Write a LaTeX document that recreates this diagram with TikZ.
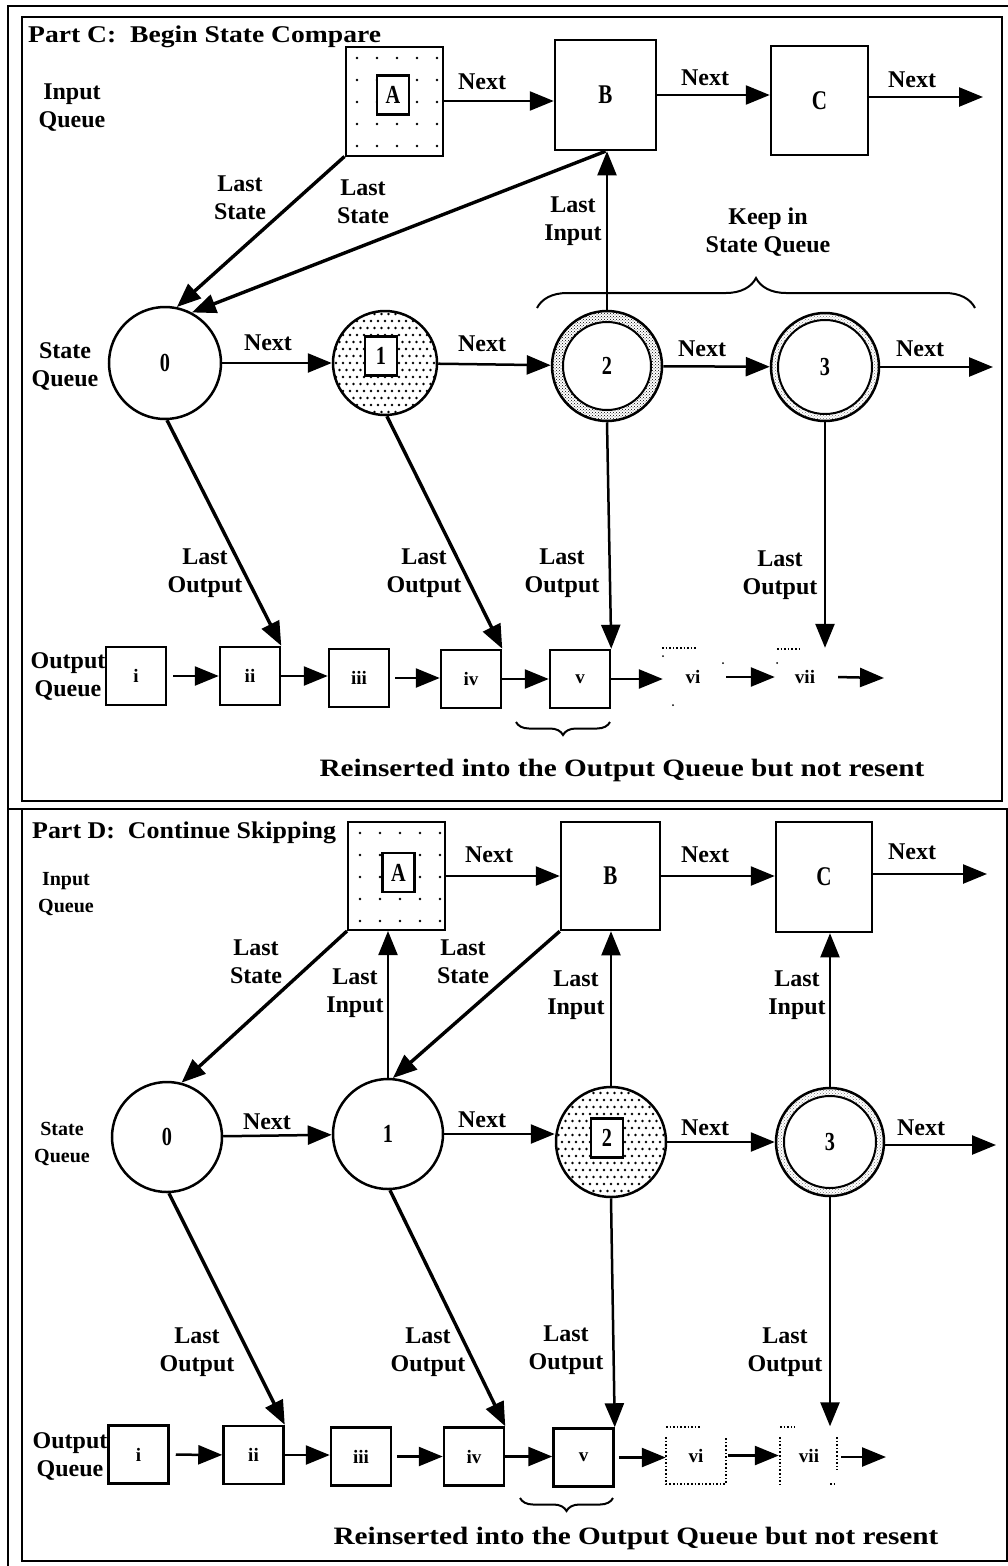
\documentclass[tikz,border=0pt]{standalone}
\usepackage{fontspec}
\usepackage{graphicx}
\setmainfont{Liberation Serif}
\usetikzlibrary{arrows.meta,patterns,decorations.pathreplacing}
\newcommand\mystipple[3]{%
  \begin{scope}
    \clip (#1,#2) circle (#3);
    \foreach \i in {-8,...,8} \foreach \j in {-8,...,8} {
      \fill ({#1+\i*7+mod(\j+20,2)*3.5},{#2+\j*7}) circle (1.3);
    }
  \end{scope}}
\newcommand\cnd[1]{\scalebox{0.78}[1]{#1}}
\newcommand\wde[2]{\scalebox{#1}[1]{#2}}
\tikzset{
  lbl/.style={font=\fontsize{24}{28}\selectfont\bfseries, align=center, inner sep=0pt},
  slbl/.style={font=\fontsize{20}{27}\selectfont\bfseries, align=center, inner sep=0pt},
  ttl/.style={font=\fontsize{24}{28}\selectfont\bfseries, inner sep=0pt, anchor=base west},
  bigbox/.style={draw, line width=2.5pt, inner sep=0pt, font=\fontsize{27}{27}\selectfont\bfseries},
  arr/.style={line width=2.5pt, -{Triangle[length=24pt,width=19pt]}},
  tarr/.style={line width=3.4pt, -{Triangle[length=24pt,width=19pt]}},
  varr/.style={line width=2pt, -{Triangle[length=24pt,width=19pt]}},
  sq/.style={draw, line width=2.5pt, minimum width=60pt, minimum height=58pt, inner sep=0pt, font=\fontsize{19}{19}\selectfont\bfseries},
  ghost/.style={minimum width=60pt, minimum height=58pt, inner sep=0pt, font=\fontsize{19}{19}\selectfont\bfseries},
  st/.style={circle, draw, line width=2.5pt, inner sep=0pt, font=\fontsize{26}{26}\selectfont\bfseries},
  inbox/.style={draw, line width=2.5pt, fill=white, minimum width=32pt, minimum height=39pt, inner sep=0pt, font=\fontsize{26}{26}\selectfont\bfseries},
  brc/.style={decorate, line width=2pt},
  frm/.style={line width=2.5pt},
  ghd/.style={dotted, line width=1.6pt},
}
\begin{document}
\begin{tikzpicture}[x=1pt,y=-1pt]
\useasboundingbox (0,0) rectangle (1008,1566);
% frames
\draw[frm] (8,1566) -- (8,6) -- (1008,6);
\draw[frm] (22,17) rectangle (1002,801);
\draw[frm] (8,809) -- (1007,809);
\draw[frm] (22,809) rectangle (1007,1561);

%%%%%%%%%%%%%%%% PART C %%%%%%%%%%%%%%%%
\node[ttl] (titleC) at (28,42) {\wde{1.15}{Part C:\ \ Begin State Compare}};
\node[lbl] (iqC) at (72,108) {Input\\Queue};
\node[lbl] (sqC) at (65,366) {State\\Queue};

% input queue
\node[bigbox, line width=2pt, minimum width=97pt, minimum height=109pt] (AC) at (394,101) {};
\foreach \x in {357,377,...,437} \foreach \y in {58,80,...,146} \fill (\x,\y) circle (1.3);
\node[inbox] (AinC) at (393,95) {\cnd{A}};
\node[bigbox, minimum width=101pt, minimum height=110pt] (BC) at (605.5,95) {\cnd{B}};
\node[bigbox, minimum width=97pt, minimum height=109pt] (CC) at (819.5,100.5) {\cnd{C}};
\coordinate (CoutC) at (983,97);

\draw[arr] (AC.east) -- (AC.east -| BC.west);
\draw[arr] (BC.east) -- (BC.east -| CC.west);
\draw[arr] (CC.west |- CoutC) ++(97,0) -- (CoutC);
\node[lbl] at (482,82) {Next};
\node[lbl] at (705,78) {Next};
\node[lbl] at (912,80) {Next};

% state queue
\node[st, minimum size=112pt] (s0C) at (165,363) {\cnd{0}};
\mystipple{385}{363}{51}
\node[st, minimum size=104pt] (s1C) at (385,363) {};
\node[inbox] (s1inC) at (381,356) {\cnd{1}};
\node[st, minimum size=110pt, pattern=crosshatch dots, pattern color=black] (s2C) at (607,366) {};
\node[st, minimum size=88pt, fill=white, line width=2pt] (s2inC) at (607,366) {\cnd{2}};
\node[st, minimum size=108pt, pattern=crosshatch dots, pattern color=black!55] (s3C) at (825,367) {};
\node[st, minimum size=94pt, fill=white, line width=2pt] (s3inC) at (825,367) {\cnd{3}};
\coordinate (SoutC) at (993,367);

\draw[arr] (s0C) -- (s1C);
\draw[arr] (s1C) -- (s2C);
\draw[arr] (s2C) -- (s3C);
\draw[arr] (s3C.east) -- (SoutC);
\node[lbl] at (268,343) {Next};
\node[lbl] at (482,344) {Next};
\node[lbl] at (702,349) {Next};
\node[lbl] at (920,349) {Next};

% last state / last input
\draw[tarr] (AC.south west) -- (s0C.78);
\draw[tarr] (BC.south) -- (s0C.62);
\node[lbl] at (240,198) {Last\\State};
\node[lbl] at (363,202) {Last\\State};
\draw[varr] (s2C.north) -- (s2C.north |- BC.south);
\node[lbl] at (573,221) {Last\\Input};

% keep brace
\draw[brc, decoration={brace, amplitude=30pt}] (537,308) -- (975,308);
\node[lbl] at (768,232) {Keep in\\State Queue};

% output queue
\node[lbl] (oqC) at (68,676) {Output\\Queue};
\node[sq] (o1C) at (136,676) {i};
\node[sq] (o2C) at (250,676) {ii};
\node[sq] (o3C) at (359,678) {iii};
\node[sq] (o4C) at (471,679) {iv};
\node[sq] (o5C) at (580,679) {v};
\node[ghost] (o6C) at (693,677) {vi};
\node[ghost] (o7C) at (805,677) {vii};
\coordinate (OoutC) at (884,678);
\draw[ghd] (662,648) -- (696,648);
\fill (663,656) circle (1); \fill (673,705) circle (1); \fill (723,663) circle (1);
\draw[ghd] (777,649) -- (800,649);
\fill (777,663) circle (1);

\draw[arr, shorten <=6pt] (o1C) -- (o2C);
\draw[arr] (o2C.east) -- (o2C.east -| o3C.west);
\draw[arr, shorten <=5pt] (o3C.east) -- (o3C.east -| o4C.west);
\draw[arr] (o4C) -- (o5C);
\draw[arr] (o5C.east) -- (o5C.east -| o6C.west);
\draw[arr, shorten <=3pt] (o6C.east) -- (o6C.east -| o7C.west);
\draw[arr, shorten <=3pt] (o7C.east) -- (OoutC);

\draw[tarr] (s0C.-88) -- (o2C.north east);
\draw[tarr] (s1C.-88) -- (o4C.north east);
\draw[arr] (s2C.south) -- (o5C.north east);
\draw[arr] (s3C.south) -- (s3C.south |- o7C.north);
\node[lbl] at (205,573) {Last\\Output};
\node[lbl] at (424,573) {Last\\Output};
\node[lbl] at (562,573) {Last\\Output};
\node[lbl] at (780,575) {Last\\Output};

\draw[brc, decoration={brace, mirror, amplitude=13pt}] (516,722) -- (610,722);
\node[lbl, font=\fontsize{25}{28}\selectfont\bfseries] (reC) at (622,770) {\wde{1.17}{Reinserted into the Output Queue but not resent}};

%%%%%%%%%%%%%%%% PART D %%%%%%%%%%%%%%%%
\node[ttl] (titleD) at (32,838) {\wde{1.08}{Part D:\ \ Continue Skipping}};
\node[slbl] (iqD) at (66,894) {Input\\Queue};
\node[slbl] (sqD) at (62,1144) {State\\Queue};

\node[bigbox, line width=2pt, minimum width=97pt, minimum height=108pt] (AD) at (396.5,876) {};
\foreach \x in {360,380,...,440} \foreach \y in {833,855,...,921} \fill (\x,\y) circle (1.3);
\node[inbox] (AinD) at (398.5,872.5) {\cnd{A}};
\node[bigbox, minimum width=99pt, minimum height=108pt] (BD) at (610.5,876) {\cnd{B}};
\node[bigbox, minimum width=96pt, minimum height=110pt] (CD) at (824,877) {\cnd{C}};
\coordinate (CoutD) at (987,874);

\draw[arr] (AD.east) -- (AD.east -| BD.west);
\draw[arr] (BD.east) -- (BD.east -| CD.west);
\draw[arr] (CD.east |- CoutD) -- (CoutD);
\node[lbl] at (489,855) {Next};
\node[lbl] at (705,855) {Next};
\node[lbl] at (912,852) {Next};

\node[st, minimum size=110pt] (s0D) at (167,1137) {\cnd{0}};
\node[st, minimum size=110pt] (s1D) at (388,1134) {\cnd{1}};
\mystipple{611}{1142}{54}
\node[st, minimum size=110pt] (s2D) at (611,1142) {};
\node[inbox] (s2inD) at (607,1138) {\cnd{2}};
\node[st, minimum size=108pt, pattern=crosshatch dots, pattern color=black!55] (s3D) at (830,1142) {};
\node[st, minimum size=92pt, fill=white, line width=2pt] (s3inD) at (830,1142) {\cnd{3}};
\coordinate (SoutD) at (996,1145);

\draw[arr] (s0D) -- (s1D);
\draw[arr] (s1D.east) -- (s1D.east -| s2D.west);
\draw[arr] (s2D.east) -- (s2D.east -| s3D.west);
\draw[arr] (s3D.east |- SoutD) -- (SoutD);
\node[lbl] at (267,1122) {Next};
\node[lbl] at (482,1120) {Next};
\node[lbl] at (705,1128) {Next};
\node[lbl] at (921,1128) {Next};

\draw[tarr] (AD.south west) -- (s0D.75);
\draw[tarr] (BD.south west) -- (s1D.85);
\node[lbl] at (256,962) {Last\\State};
\node[lbl] at (463,962) {Last\\State};
\draw[varr] (s1D.north) -- (s1D.north |- AD.south);
\draw[varr] (s2D.north) -- (s2D.north |- BD.south);
\draw[varr] (s3D.north) -- (s3D.north |- CD.south);
\node[lbl] at (355,993) {Last\\Input};
\node[lbl] at (576,995) {Last\\Input};
\node[lbl] at (797,995) {Last\\Input};

\node[lbl] (oqD) at (70,1456) {Output\\Queue};
\node[sq] (o1D) at (138.5,1454.5) {i};
\node[sq] (o2D) at (253.5,1455) {ii};
\node[sq] (o3D) at (361,1456.5) {iii};
\node[sq] (o4D) at (474,1456.5) {iv};
\node[sq] (o5D) at (583.5,1457.5) {v};
\node[ghost] (o6D) at (696,1455.5) {vi};
\node[ghost] (o7D) at (809,1455.5) {vii};
\coordinate (OoutD) at (886,1457);
\draw[ghd] (666,1427) -- (700,1427);
\draw[ghd] (666,1437) -- (666,1484) -- (726,1484) -- (726,1437);
\draw[ghd] (780,1427) -- (795,1427);
\draw[ghd] (780,1437) -- (780,1484);
\draw[ghd] (837,1437) -- (837,1470);
\draw[ghd] (830,1484) -- (837,1484);

\draw[arr, shorten <=6pt] (o1D) -- (o2D);
\draw[arr] (o2D.east) -- (o2D.east -| o3D.west);
\draw[arr, shorten <=5pt] (o3D.east) -- (o3D.east -| o4D.west);
\draw[arr] (o4D.east) -- (o4D.east -| o5D.west);
\draw[arr, shorten <=4pt] (o5D.east) -- (o5D.east -| o6D.west);
\draw[arr, shorten <=2pt] (o6D.east) -- (o6D.east -| o7D.west);
\draw[arr, shorten <=2pt] (o7D.east |- OoutD) -- (OoutD);

\draw[tarr] (s0D.-88) -- (o2D.north east);
\draw[tarr] (s1D.-88) -- (o4D.north east);
\draw[arr] (s2D.south) -- (o5D.north east);
\draw[arr] (s3D.south) -- (s3D.south |- o7D.north);
\node[lbl] at (197,1352) {Last\\Output};
\node[lbl] at (428,1352) {Last\\Output};
\node[lbl] at (566,1350) {Last\\Output};
\node[lbl] at (785,1352) {Last\\Output};

\draw[brc, decoration={brace, mirror, amplitude=13pt}] (520,1498) -- (613,1498);
\node[lbl, font=\fontsize{25}{28}\selectfont\bfseries] (reD) at (636,1538) {\wde{1.17}{Reinserted into the Output Queue but not resent}};
\end{tikzpicture}
\end{document}
